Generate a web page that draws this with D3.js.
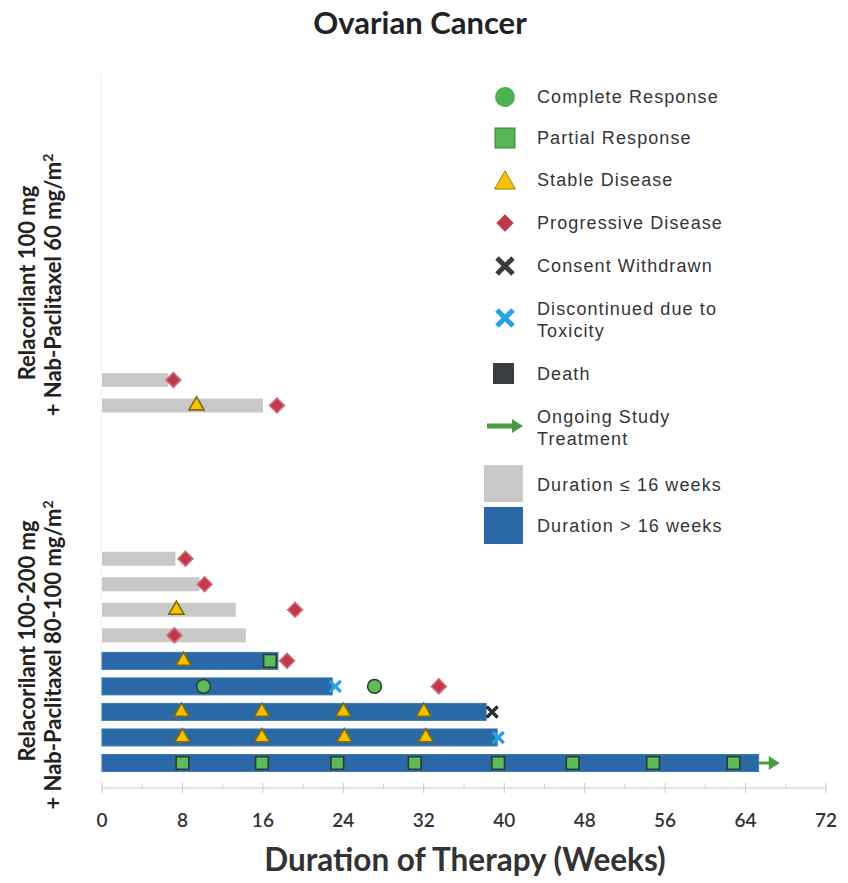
<!DOCTYPE html>
<html><head><meta charset="utf-8">
<script src="https://cdn.jsdelivr.net/npm/d3@7"></script>
<style>body{margin:0;background:#fff}svg{display:block}</style>
</head><body>
<svg id="c" width="848" height="883"></svg>
<script>
// ---- data ----
const slots = ["A1","A2","g1","g2","g3","g4","g5","B1","B2","B3","B4","B5","B6","B7","B8","B9"];
const patients = ["A1","A2","B1","B2","B3","B4","B5","B6","B7","B8","B9"];
const durations = [6.6, 16.0, 7.3, 9.7, 13.3, 14.3, 17.5, 22.9, 38.2, 39.3, 65.3];
const completeResponse = [["B6",10.1],["B6",27.1]];
const partialResponse = [["B5",16.7],["B9",8.0],["B9",15.9],["B9",23.4],["B9",31.1],["B9",39.4],["B9",46.8],["B9",54.8],["B9",62.8]];
const stableDisease = [["A2",9.4],["B3",7.4],["B5",8.1],["B7",7.9],["B7",15.9],["B7",24.0],["B7",32.0],["B8",8.0],["B8",15.9],["B8",24.1],["B8",32.2]];
const progressiveDisease = [["A1",7.1],["A2",17.4],["B1",8.3],["B2",10.2],["B3",19.2],["B4",7.2],["B5",18.4],["B6",33.5]];
const consentWithdrawn = [["B7",38.8]];
const toxicity = [["B6",23.2],["B8",39.4]];
const ongoing = [["B9",65.3,67.4]];
const xTicks = [0,8,16,24,32,40,48,56,64,72];
const minorTicks = [4,12,20,28,36,44,52,60,68];
const legendItems = ["Complete Response","Partial Response","Stable Disease","Progressive Disease","Consent Withdrawn","Discontinued due to|Toxicity","Death","Ongoing Study|Treatment","Duration ≤ 16 weeks","Duration > 16 weeks"];
const groupLabels = [["Relacorilant 100 mg","+ Nab-Paclitaxel 60 mg/m"],["Relacorilant 100-200 mg","+ Nab-Paclitaxel 80-100 mg/m"]];

// ---- colors ----
const C = {green:"#5dbb5a", gOut:"#2f3a2a", yellow:"#f6c200", yOut:"#7d6a10", red:"#c0394b", dark:"#3a3d40", cyan:"#27a2e0", arrow:"#4d9a45", gray:"#c8c8c8", blue:"#2a69a6", blueOut:"#3c78b2"};

const svg = d3.select("#c");
const x = d3.scaleLinear().domain([0,72]).range([102,826]);
const y = d3.scalePoint().domain(slots).range([380,763]);

// title
svg.append("text").attr("x",420).attr("y",34).attr("text-anchor","middle")
  .attr("font-family","Lato, 'Open Sans', sans-serif").attr("font-weight","bold").attr("font-size",31).attr("fill","#222").text("Ovarian Cancer");

// left faint line
svg.append("line").attr("x1",101).attr("x2",101).attr("y1",75).attr("y2",788).attr("stroke","#f0f0f0");

// x axis
const axisY = 788;
svg.append("line").attr("x1",x(0)).attr("x2",x(72)).attr("y1",axisY).attr("y2",axisY).attr("stroke","#c8c8c8");
svg.selectAll(".mt").data(xTicks).join("line").attr("x1",d=>x(d)).attr("x2",d=>x(d)).attr("y1",axisY-5).attr("y2",axisY+5).attr("stroke","#c8c8c8");
svg.selectAll(".nt").data(minorTicks).join("line").attr("x1",d=>x(d)).attr("x2",d=>x(d)).attr("y1",axisY-4).attr("y2",axisY).attr("stroke","#d0d0d0");
svg.selectAll(".tl").data(xTicks).join("text").attr("x",d=>x(d)).attr("y",827).attr("text-anchor","middle")
  .attr("font-family","Lato, sans-serif").attr("font-size",19).attr("font-weight","600").attr("fill","#333").text(d=>d);
svg.append("text").attr("x",465).attr("y",871).attr("text-anchor","middle")
  .attr("font-family","Lato, 'Open Sans', sans-serif").attr("font-weight","bold").attr("font-size",31.5).attr("fill","#333").text("Duration of Therapy (Weeks)");

// group labels
function groupLabel(lines, cx, centers){
  lines.forEach((t,i)=>{
    const tx = svg.append("text").attr("transform",`translate(${cx[i]},${centers[i]}) rotate(-90)`)
      .attr("text-anchor","middle").attr("font-family","Lato, 'Open Sans', sans-serif").attr("font-weight","bold")
      .attr("font-size",22).attr("fill","#222");
    tx.append("tspan").text(t);
    if(i===1) tx.append("tspan").attr("dy",-8).attr("font-size",14).text("2");
  });
}
groupLabel(groupLabels[0],[35,61],[283,285]);
groupLabel(groupLabels[1],[35,61],[641,655]);

// bars
const bars = patients.map((p,i)=>({p, d:durations[i]}));
svg.selectAll(".bar").data(bars).join("rect")
  .attr("x",x(0)).attr("width",d=>x(d.d)-x(0))
  .attr("y",d=>y(d.p)-(d.d>16?8.5:7)).attr("height",d=>d.d>16?17:14)
  .attr("fill",d=>d.d>16?C.blue:C.gray).attr("stroke",d=>d.d>16?C.blueOut:"none").attr("stroke-width",1);

// ongoing arrows
function arrow(g, x1, x2, yy, w){
  g.append("line").attr("x1",x1).attr("x2",x2-9).attr("y1",yy).attr("y2",yy).attr("stroke",C.arrow).attr("stroke-width",w);
  g.append("path").attr("d",`M${x2-11},${yy-7}L${x2},${yy}L${x2-11},${yy+7}Z`).attr("fill",C.arrow);
}
ongoing.forEach(o=>arrow(svg,x(o[1]),x(o[2]),y(o[0]),3));

// markers
const sym = (type,size)=>d3.symbol().type(type).size(size)();
function drawSym(data, type, size, fill, stroke, rot=0){
  svg.selectAll(null).data(data).join("path")
    .attr("transform",d=>`translate(${x(d[1])},${y(d[0])}) rotate(${rot})`)
    .attr("d",sym(type,size)).attr("fill",fill).attr("stroke",stroke).attr("stroke-width",1.6);
}
function drawX(g, cx, cy, r, color, w){
  g.append("path").attr("d",`M${cx-r},${cy-r}L${cx+r},${cy+r}M${cx-r},${cy+r}L${cx+r},${cy-r}`)
    .attr("stroke",color).attr("stroke-width",w).attr("fill","none");
}
drawSym(stableDisease, d3.symbolTriangle, 100, C.yellow, C.yOut);
drawSym(partialResponse, d3.symbolSquare, 160, C.green, C.gOut);
drawSym(completeResponse, d3.symbolCircle, 150, C.green, C.gOut);
drawSym(progressiveDisease, d3.symbolSquare, 110, C.red, "#d46a78", 45);
consentWithdrawn.forEach(d=>drawX(svg,x(d[1]),y(d[0]),5.5,"#2b2e30",3.4));
toxicity.forEach(d=>drawX(svg,x(d[1]),y(d[0]),5.5,C.cyan,3.4));

// legend
const lg = svg.append("g");
const lx = 505, tx = 537;
const rowsY = [97,138,180,223,266,318,374,426,485,526];
const font = "Liberation Sans, Arial, sans-serif";
legendItems.forEach((t,i)=>{
  const parts = t.split("|");
  const yy = rowsY[i];
  const te = lg.append("text").attr("x",tx).attr("font-family",font).attr("font-size",18).attr("fill","#353535").attr("letter-spacing",1.1);
  if(parts.length===1){ te.attr("y",yy+6).text(parts[0]); }
  else { te.append("tspan").attr("x",tx).attr("y",yy-3).text(parts[0]); te.append("tspan").attr("x",tx).attr("y",yy+19).text(parts[1]); }
});
lg.append("circle").attr("cx",lx).attr("cy",97).attr("r",10).attr("fill","#4db152");
lg.append("rect").attr("x",lx-10).attr("y",128).attr("width",20).attr("height",20).attr("fill","#55b557").attr("stroke","#3e7d3e").attr("stroke-width",1);
lg.append("path").attr("transform",`translate(${lx},183)`).attr("d",sym(d3.symbolTriangle,190)).attr("fill",C.yellow).attr("stroke","#9a8416").attr("stroke-width",1);
lg.append("path").attr("transform",`translate(${lx},223) rotate(45)`).attr("d",sym(d3.symbolSquare,150)).attr("fill",C.red);
drawX(lg,lx,266,8,"#3a3d40",5);
drawX(lg,lx,318,8,C.cyan,5);
lg.append("rect").attr("x",lx-12).attr("y",363).attr("width",21).attr("height",21).attr("fill","#3a3d40");
arrow(lg,487,523,426,5);
lg.append("rect").attr("x",484).attr("y",465).attr("width",39).attr("height",37).attr("fill",C.gray);
lg.append("rect").attr("x",484).attr("y",507).attr("width",39).attr("height",37).attr("fill",C.blue);
</script>
</body></html>
